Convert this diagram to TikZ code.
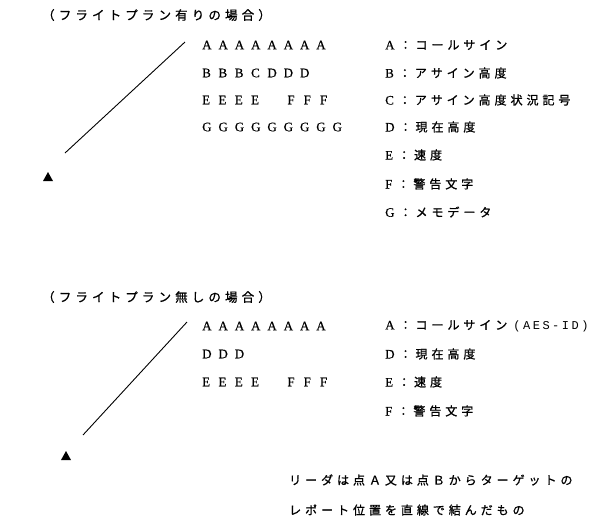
\documentclass[tikz,border=0pt]{standalone}
\usepackage{fontspec}
\setmainfont{Liberation Serif}[FakeBold=0.4]
\newfontfamily\jp[LetterSpace=33,FakeBold=1]{Noto Sans CJK JP}
\newfontfamily\mono[LetterSpace=21]{Liberation Mono}
\newcommand\cel[1]{\makebox[16.3pt][l]{#1}}
\newcommand\gap{\hspace{20pt}}
\tikzset{
  row/.style={anchor=west, inner sep=0pt, font=\fontsize{13}{13}\selectfont},
  lbl/.style={anchor=west, inner sep=0pt, font=\fontsize{13}{13}\selectfont},
  jtitle/.style={anchor=west, inner sep=0pt, font=\jp\fontsize{12.5}{12.5}\selectfont},
  jtxt/.style={anchor=west, inner sep=0pt, font=\jp\fontsize{12}{12}\selectfont},
  leader/.style={line width=0.9pt},
  tri/.style={fill=black}
}
\newcommand\kl[1]{\hspace{5pt}{\jp\fontsize{12}{12}\selectfont ：#1}}
\begin{document}
\begin{tikzpicture}[x=1pt,y=-1pt]
\useasboundingbox (0,0) rectangle (600,528);
% ---------- top ----------
\node[jtitle] (t1) at (42,15) {（フライトプラン有りの場合）};
\coordinate (l1a) at (185,42);
\coordinate (l1b) at (65,153);
\draw[leader] (l1a) -- (l1b);
\fill[tri] (43,181) -- (53,181) -- (48,172) -- cycle;
\node[row] (ra) at (202,45) {\cel A\cel A\cel A\cel A\cel A\cel A\cel A\cel A};
\node[row] (rb) at (202,73) {\cel B\cel B\cel B\cel C\cel D\cel D\cel D};
\node[row] (re) at (202,100) {\cel E\cel E\cel E\cel E\gap\cel F\cel F\cel F};
\node[row] (rg) at (202,127) {\cel G\cel G\cel G\cel G\cel G\cel G\cel G\cel G\cel G};
\node[lbl] (ka) at (385,45) {A\kl{コールサイン}};
\node[lbl] (kb) at (385,73) {B\kl{アサイン高度}};
\node[lbl] (kc) at (385,100) {C\kl{アサイン高度状況記号}};
\node[lbl] (kd) at (385,127) {D\kl{現在高度}};
\node[lbl] (ke) at (385,155) {E\kl{速度}};
\node[lbl] (kf) at (385,184) {F\kl{警告文字}};
\node[lbl] (kg) at (385,212) {G\kl{メモデータ}};
% ---------- bottom ----------
\node[jtitle] (t2) at (42,297) {（フライトプラン無しの場合）};
\coordinate (l2a) at (187,322);
\coordinate (l2b) at (83,435);
\draw[leader] (l2a) -- (l2b);
\fill[tri] (61,460) -- (71,460) -- (66,451) -- cycle;
\node[row] (sa) at (202,326) {\cel A\cel A\cel A\cel A\cel A\cel A\cel A\cel A};
\node[row] (sd) at (202,354) {\cel D\cel D\cel D};
\node[row] (se) at (202,382) {\cel E\cel E\cel E\cel E\gap\cel F\cel F\cel F};
\node[lbl] (ma) at (385,326) {A\kl{コールサイン}\hspace{6pt}{\mono\fontsize{12}{12}\selectfont (AES-ID)}};
\node[lbl] (md) at (385,354) {D\kl{現在高度}};
\node[lbl] (me) at (385,382) {E\kl{速度}};
\node[lbl] (mf) at (385,411) {F\kl{警告文字}};
\node[jtxt] (n1) at (289,480) {リーダは点Ａ又は点Ｂからターゲットの};
\node[jtxt] (n2) at (289,510) {レポート位置を直線で結んだもの};
\end{tikzpicture}
\end{document}
